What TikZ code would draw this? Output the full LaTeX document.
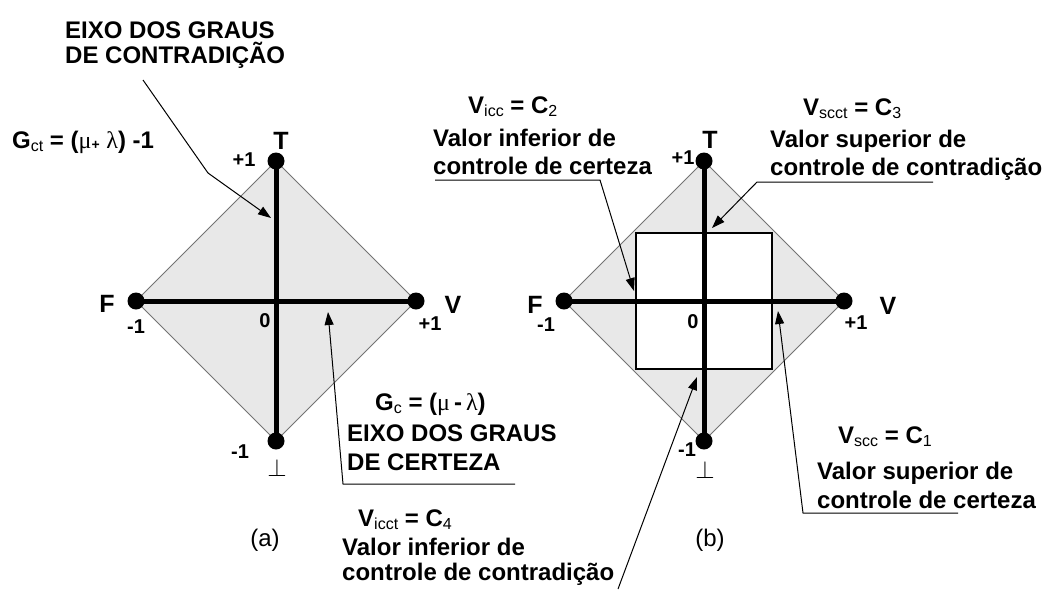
\documentclass[tikz,border=0pt]{standalone}
\usepackage{fontspec}
\setmainfont{Liberation Sans}
\newfontfamily\grk{Liberation Serif}
\usetikzlibrary{arrows.meta}
\newcommand\sbx[1]{\raisebox{-0.25ex}{\fontsize{16}{16}\selectfont\mdseries #1}}
\newcommand\gl[1]{{\grk\mdseries #1}}
\begin{document}
\begin{tikzpicture}[x=1pt,y=-1pt,
  dia/.style={draw=black!55, fill=black!9, line width=1pt},
  sq/.style={draw=black, fill=white, line width=1.2pt},
  axis/.style={line width=5pt},
  dot/.style={circle, fill=black, minimum size=17pt, inner sep=0pt},
  big/.style={font=\fontsize{25}{25}\selectfont\bfseries, inner sep=0pt},
  num/.style={font=\fontsize{20}{20}\selectfont\bfseries, inner sep=0pt},
  captxt/.style={font=\fontsize{24}{24}\selectfont, inner sep=0pt},
  formula/.style={font=\fontsize{24}{24}\selectfont\bfseries, inner sep=0pt, anchor=base west},
  desc/.style={font=\fontsize{24}{28}\selectfont\bfseries, inner sep=0pt, anchor=base west, align=left},
  conn/.style={line width=1pt},
  arr/.style={conn, -{Triangle[length=13pt,width=9pt]}}]
\useasboundingbox (0,0) rectangle (1047,590);

% ---------------- (a) ----------------
\draw[dia] (276,161) -- (416,301) -- (276,441) -- (136,301) -- cycle;
\node[dot] (aT) at (276,161) {};
\node[dot] (aB) at (276,441) {};
\node[dot] (aF) at (136,301) {};
\node[dot] (aV) at (416,301) {};
\draw[axis] (aT.center) -- (aB.center);
\draw[axis] (aF.center) -- (aV.center);

\node[big] (aTl) at (281,141) {T};
\node[num] (aTn) at (244,160) {+1};
\node[big] (aFl) at (107,304) {F};
\node[num] (aFn) at (136,327) {-1};
\node[num] (a0) at (265,321) {0};
\node[big] (aVl) at (453,305) {V};
\node[num] (aVn) at (430,324) {+1};
\node[num] (aBn) at (240,452) {-1};
\node[font=\fontsize{26}{26}\selectfont, inner sep=0pt] (aBl) at (277,468) {$\perp$};
\node[captxt] (acap) at (265,540) {(a)};

\node[formula] (gct) at (12,148) {G\sbx{ct} = (\gl{μ}{\fontsize{14}{14}\selectfont\raisebox{-0.2ex}{+}} \gl{λ}) -1};
\node[desc] (eixoct) at (65,63) {EIXO DOS GRAUS\\[-3pt]DE CONTRADIÇÃO};
\coordinate (ct1) at (143,80);
\coordinate (ct2) at (208,173);
\coordinate (ct3) at (271,218);
\draw[arr] (ct1) -- (ct2) -- (ct3);

\node[formula] (gc) at (375,410) {G\sbx{c} = (\gl{μ}\,-\,\gl{λ})};
\node[desc] (eixoc) at (347,470) {EIXO DOS GRAUS\\[1pt]DE CERTEZA};
\coordinate (c1) at (515,484);
\coordinate (c2) at (343,484);
\coordinate (c3) at (328,312);
\draw[arr] (c1) -- (c2) -- (c3);

% ---------------- (b) ----------------
\draw[dia] (704,161) -- (844,301) -- (704,441) -- (564,301) -- cycle;
\draw[sq] (636,233) rectangle (772,369);
\node[dot] (bT) at (704,161) {};
\node[dot] (bB) at (704,441) {};
\node[dot] (bF) at (564,301) {};
\node[dot] (bV) at (844,301) {};
\draw[axis] (bT.center) -- (bB.center);
\draw[axis] (bF.center) -- (bV.center);

\node[big] (bTl) at (710,140) {T};
\node[num] (bTn) at (683,158) {+1};
\node[big] (bFl) at (535,305) {F};
\node[num] (bFn) at (546,325) {-1};
\node[num] (b0) at (693,322) {0};
\node[big] (bVl) at (888,306) {V};
\node[num] (bVn) at (856,323) {+1};
\node[num] (bBn) at (687,450) {-1};
\node[font=\fontsize{26}{26}\selectfont, inner sep=0pt] (bBl) at (705,470) {$\perp$};
\node[captxt] (bcap) at (710,540) {(b)};

% C2
\node[formula] (vicc) at (468,113) {V\sbx{icc} = C\sbx{2}};
\node[desc] (dicc) at (433,174) {Valor inferior de\\controle de certeza};
\coordinate (i1) at (435,180);
\coordinate (i2) at (600,180);
\coordinate (i3) at (634,291);
\draw[arr] (i1) -- (i2) -- (i3);

% C3
\node[formula] (vscct) at (803,115) {V\sbx{scct} = C\sbx{3}};
\node[desc] (dscct) at (770,175) {Valor superior de\\controle de contradição};
\coordinate (s1) at (933,182);
\coordinate (s2) at (757,182);
\coordinate (s3) at (712,228);
\draw[arr] (s1) -- (s2) -- (s3);

% C1
\node[formula] (vscc) at (838,443) {V\sbx{scc} = C\sbx{1}};
\node[desc] (dscc) at (817,508) {Valor superior de\\[1pt]controle de certeza};
\coordinate (u1) at (958,513);
\coordinate (u2) at (803,513);
\coordinate (u3) at (778,311);
\draw[arr] (u1) -- (u2) -- (u3);

% C4
\node[formula] (victt) at (358,526) {V\sbx{icct} = C\sbx{4}};
\node[desc] (dicct) at (342,580) {Valor inferior de\\[-3pt]controle de contradição};
\coordinate (w1) at (618,589);
\coordinate (w2) at (697,377);
\draw[arr] (w1) -- (w2);
\end{tikzpicture}
\end{document}
